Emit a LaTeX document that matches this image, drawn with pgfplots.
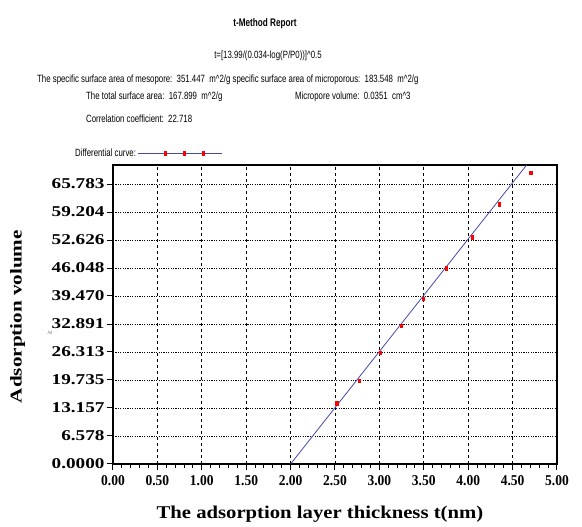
\documentclass[border=0pt]{standalone}
\usepackage{fontspec}
\setmainfont{Liberation Serif}
\newfontfamily\yfont[FakeStretch=1.28]{Liberation Serif}
\newfontfamily\xfont[FakeStretch=0.9]{Liberation Serif}
\newfontfamily\labfont[FakeStretch=1.15]{Liberation Serif}
\newfontfamily\hfont[FakeStretch=0.745]{Liberation Sans}
\usepackage{pgfplots}
\pgfplotsset{compat=1.18}
\definecolor{fitblue}{RGB}{72,72,170}

% measured points of the t-plot
\pgfplotstableread{
t V
2.519 14.26
2.770 19.57
3.007 26.15
3.247 32.49
3.495 38.84
3.754 45.98
4.043 53.26
4.351 61.01
4.704 68.44
}\pointdata

% fitted straight line
\pgfplotstableread{
t V
2.000 0.00
4.658 70.25
}\fitdata

\begin{document}
\begin{tikzpicture}
\path[use as bounding box] (-113pt,-63pt) rectangle (469pt,464pt);
\begin{axis}[
    scale only axis,
    width=444pt, height=299pt,
    xmin=0, xmax=5, ymin=0, ymax=70.25,
    xtick={0,0.5,...,5},
    xticklabels={0.00,0.50,1.00,1.50,2.00,2.50,3.00,3.50,4.00,4.50,5.00},
    ytick={0,6.578,13.157,19.735,26.313,32.891,39.470,46.048,52.626,59.204,65.783},
    yticklabels={0.0000,6.578,13.157,19.735,26.313,32.891,39.470,46.048,52.626,59.204,65.783},
    minor x tick num=4,
    tick align=outside,
    xtick pos=left, ytick pos=left,
    major tick length=6pt, minor tick length=4pt,
    tick style={black, line width=1pt},
    axis line style={black, line width=1.6pt},
    grid=major,
    x grid style={black, line width=0.6pt, dash pattern=on 3pt off 3pt},
    y grid style={black, line width=0.6pt, dash pattern=on 1.2pt off 1.2pt},
    xticklabel style={font=\xfont\bfseries\fontsize{15}{15}\selectfont, yshift=-2pt},
    yticklabel style={font=\yfont\bfseries\fontsize{15}{15}\selectfont, xshift=1pt},
    xlabel={The adsorption layer thickness t(nm)},
    ylabel={Adsorption volume},
    every axis x label/.style={at={(axis description cs:0.466,-0.167)}, anchor=center,
        font=\labfont\bfseries\fontsize{18}{18}\selectfont},
    every axis y label/.style={at={(axis description cs:-0.215,0.493)}, anchor=center, rotate=90,
        font=\yfont\bfseries\fontsize{16.5}{16.5}\selectfont},
    legend plot pos=right,
    legend style={at={(axis description cs:-0.09,1.04)}, anchor=west, draw=none, fill=none,
        inner sep=0pt, font=\hfont\fontsize{10.5}{10.5}\selectfont},
]
\addplot[fitblue, line width=0.8pt, forget plot] table[x=t, y=V] {\fitdata};
\addplot[only marks, mark=square*, mark size=1.6pt, mark options={xscale=0.7, yscale=1.2, fill=red, draw=red},
    legend image code/.code={
        \draw[fitblue, line width=0.9pt] (0pt,0pt) -- (84pt,0pt);
        \fill[red] (26pt,-2pt) rectangle (28pt,2pt);
        \fill[red] (45pt,-2pt) rectangle (47pt,2pt);
        \fill[red] (64pt,-2pt) rectangle (66pt,2pt);
    }] table[x=t, y=V] {\pointdata};
\addlegendentry{Differential curve:}
\end{axis}
\begin{scope}[font=\hfont\fontsize{10.5}{10.5}\selectfont]
\node[font=\hfont\bfseries\fontsize{11}{11}\selectfont] at (152pt,440pt) {t-Method Report};
\node at (155pt,408pt) {t=[13.99/(0.034-log(P/P0))]\textasciicircum0.5};
\node[anchor=west, inner sep=0pt] at (-76pt,384pt) {The specific surface area of mesopore:\ \ 351.447\ \ m\textasciicircum2/g specific surface area of microporous:\ \ 183.548\ \ m\textasciicircum2/g};
\node[anchor=west, inner sep=0pt] at (-27pt,367pt) {The total surface area:\ \ 167.899\ \ m\textasciicircum2/g};
\node[anchor=west, inner sep=0pt] at (182pt,367pt) {Micropore volume:\ \ 0.0351\ \ cm\textasciicircum3};
\node[anchor=west, inner sep=0pt] at (-27pt,345pt) {Correlation coefficient:\ \ 22.718};
\node[gray, font=\hfont\fontsize{5}{5}\selectfont] at (-63pt,131pt) {Ad};
\end{scope}
\end{tikzpicture}
\end{document}
